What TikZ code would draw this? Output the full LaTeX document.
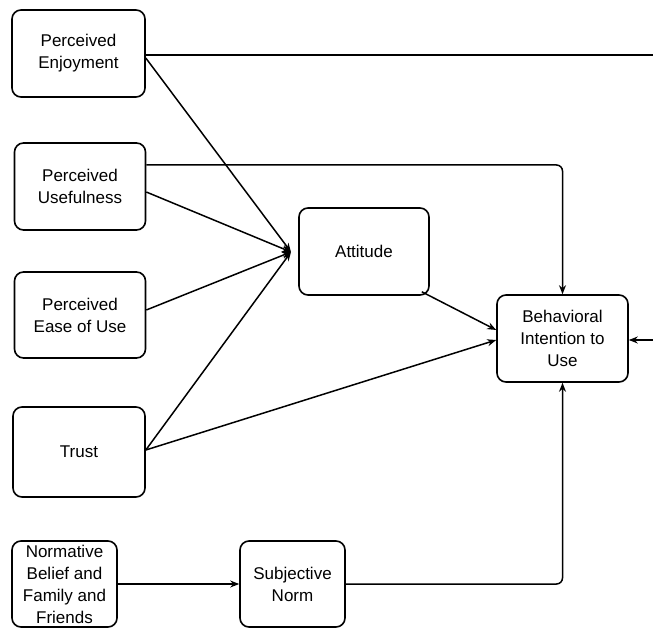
\documentclass[tikz,border=0pt]{standalone}
\usepackage{fontspec}
\setmainfont{Liberation Sans}
\usetikzlibrary{arrows.meta}
\begin{document}
\begin{tikzpicture}[x=1pt,y=-1pt,
  box/.style={draw,line width=1.6pt,rounded corners=9pt,align=center,
    font=\fontsize{17}{22}\selectfont,inner sep=0pt},
  link/.style={line width=1.5pt},
  arr/.style={line width=1.5pt,-{Stealth[length=9pt,width=7pt]}}]
\useasboundingbox (0,0) rectangle (653,628);
% constructs
\node[box,minimum width=133pt,minimum height=87pt] (pe) at (78.5,53.5) {Perceived\\Enjoyment};
\node[box,minimum width=131pt,minimum height=87pt] (pu) at (80,186.5) {Perceived\\Usefulness};
\node[box,minimum width=131pt,minimum height=86pt] (peou) at (80,315) {Perceived\\Ease of Use};
\node[box,minimum width=132pt,minimum height=90pt] (tr) at (79,452) {Trust};
\node[box,minimum width=105pt,minimum height=86pt] (nb) at (64.5,584) {Normative\\Belief and\\Family and\\Friends};
\node[box,minimum width=105pt,minimum height=86pt] (sn) at (292.5,584) {Subjective\\Norm};
\node[box,minimum width=130pt,minimum height=87pt] (att) at (364,251.5) {Attitude};
\node[box,minimum width=131pt,minimum height=87pt] (bi) at (562.5,338.5) {Behavioral\\Intention to\\Use};
% free ends at the right margin
\coordinate (outTop) at (653,55);
\coordinate (inRight) at (653,340);
\coordinate (conv) at (291,252);
% connectors
\draw[link] (pe.east |- 0,55) -- (outTop);
\draw[arr] (inRight) -- (bi.east |- inRight);
\draw[arr] (pe.east |- 0,58) -- (conv);
\draw[arr] (pu.east |- 0,192) -- (conv);
\draw[arr] (peou.east |- 0,310) -- (conv);
\draw[arr] (tr.east |- 0,450) -- (conv);
\draw[arr,rounded corners=6pt] (pu.east |- 0,165) -- (bi.north |- 0,165) -- (bi.north);
\draw[arr] (att.south east) ++(-8,-4) coordinate (attOut) (attOut) -- (bi.west |- 0,330);
\draw[arr] (tr.east |- 0,450) -- (bi.west |- 0,340);
\draw[arr] (nb) -- (sn);
\draw[arr,rounded corners=6pt] (sn.east) -- (bi.south |- sn.east) -- (bi.south);
\end{tikzpicture}
\end{document}
